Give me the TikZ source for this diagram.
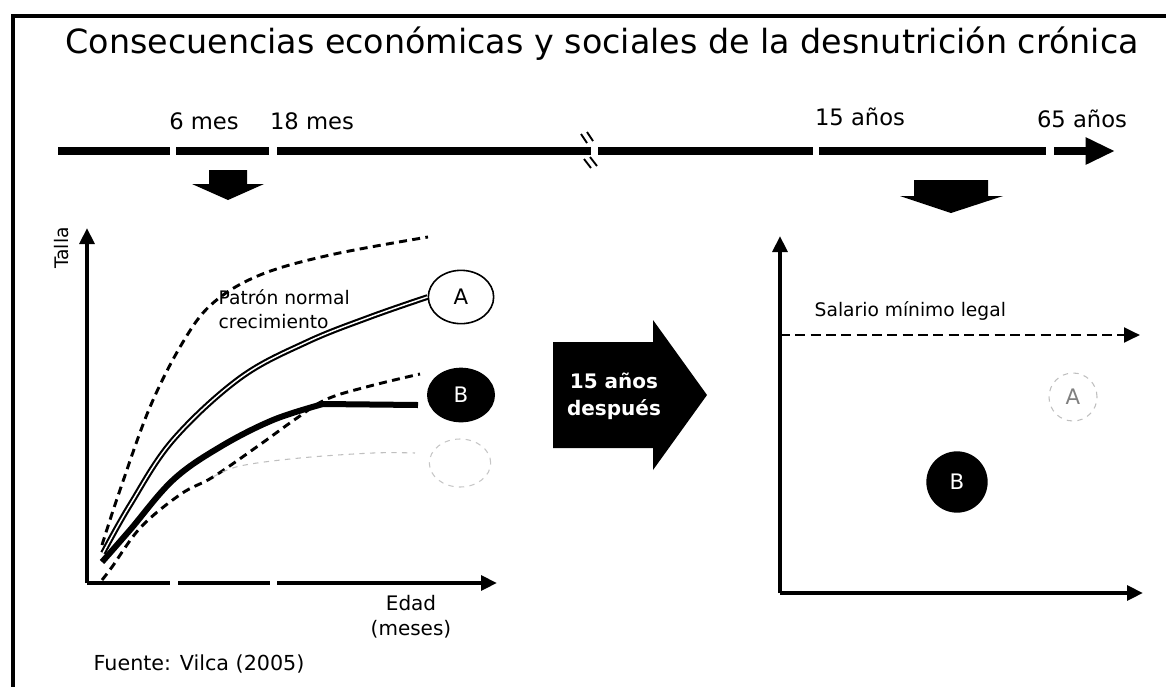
\documentclass[tikz,border=0pt]{standalone}
\usepackage{fontspec}
\setmainfont{DejaVu Sans}
\usetikzlibrary{arrows.meta,shapes.geometric}
\begin{document}
\begin{tikzpicture}[x=0.75pt,y=-0.75pt,
  frame/.style={line width=3pt,line cap=rect},
  tline/.style={line width=5.5pt},
  axisline/.style={line width=3.2pt},
  axtip/.style={-{Triangle[length=12pt,width=11pt]}},
  dashcurve/.style={line width=2.2pt,dash pattern=on 6pt off 4pt},
  faint/.style={line width=0.8pt,gray!50,dash pattern=on 4pt off 4pt},
  lbl/.style={font=\fontsize{17pt}{20pt}\selectfont,anchor=base},
  small/.style={font=\fontsize{14pt}{18pt}\selectfont},
  blackell/.style={ellipse,fill=black,text=white,inner sep=0pt,font=\fontsize{16pt}{20pt}\selectfont},
  whiteell/.style={ellipse,draw=black,line width=1.2pt,fill=white,inner sep=0pt,font=\fontsize{16pt}{20pt}\selectfont},
  bigarrow/.style={fill=black}
]
\useasboundingbox (0,0) rectangle (1166,686);
% frame
\draw[frame] (1166,16) -- (13,16) -- (13,686);
% title
\node[anchor=base,font=\fontsize{25pt}{30pt}\selectfont] (title) at (602,53) {Consecuencias económicas y sociales de la desnutrición crónica};
% timeline labels
\node[lbl] (l6) at (204,129) {6 mes};
\node[lbl] (l18) at (312,129) {18 mes};
\node[lbl] (l15) at (860,125) {15 años};
\node[lbl] (l65) at (1082,127) {65 años};
% timeline
\coordinate (t0) at (58,151);  \coordinate (t1) at (170,151);
\coordinate (t2) at (176,151); \coordinate (t3) at (269,151);
\coordinate (t4) at (277,151); \coordinate (t5) at (591,151);
\coordinate (t6) at (598,151); \coordinate (t7) at (813,151);
\coordinate (t8) at (819,151); \coordinate (t9) at (1046,151);
\coordinate (t10) at (1054,151); \coordinate (t11) at (1115,151);
\draw[tline] (t0) -- (t1);
\draw[tline] (t2) -- (t3);
\draw[tline] (t4) -- (t5);
\draw[tline] (t6) -- (t7);
\draw[tline] (t8) -- (t9);
\draw[tline,-{Triangle[length=22pt,width=19pt]}] (t10) -- (t11);
% break marks
\draw[line width=1.4pt] (581,134) -- (587,143) (587,132) -- (593,141);
\draw[line width=1.4pt] (584,159) -- (591,168) (590,157) -- (597,166);
% down arrows
\fill[bigarrow] (209,170) -- (247,170) -- (247,184) -- (264,184) -- (228,200) -- (192,184) -- (209,184) -- cycle;
\fill[bigarrow] (914,180) -- (988,180) -- (988,196) -- (1003,196) -- (951,213) -- (900,196) -- (914,196) -- cycle;
% ===== left chart =====
\coordinate (lo) at (87,583);
\coordinate (ly) at (87,228);
\coordinate (lx1) at (170,583); \coordinate (lx2) at (178,583);
\coordinate (lx3) at (270,583); \coordinate (lx4) at (277,583);
\coordinate (lx5) at (497,583);
\draw[axisline,axtip] (lo) -- (ly);
\draw[axisline] (lo) -- (lx1);
\draw[axisline] (lx2) -- (lx3);
\draw[axisline,axtip] (lx4) -- (lx5);
\node[small,rotate=90] (talla) at (62,248) {Talla};
\node[font=\fontsize{15pt}{19pt}\selectfont,align=center] (edad) at (411,617) {Edad\\(meses)};
\node[font=\fontsize{15.5pt}{18pt}\selectfont,anchor=west] (fuente) at (89,664) {Fuente: Vilca (2005)};
% curves
\draw[dashcurve] plot[smooth,tension=0.6] coordinates {(102,545) (120,490) (150,407) (183,342) (213,303) (260,275) (330,255) (428,237)};
\draw[dashcurve] plot[smooth,tension=0.6] coordinates {(102,580) (112,567) (141,527) (181,494) (213,477) (258,446) (297,418) (327,399) (370,386) (420,374)};
\draw[faint] plot[smooth,tension=0.6] coordinates {(213,477) (240,466) (300,458) (373,453) (415,453)};
\node[whiteell,minimum width=49pt,minimum height=40pt] (A) at (461,297) {A};
\node[blackell,minimum width=51pt,minimum height=41pt] (B) at (461,395) {B};
\node[ellipse,draw=gray!45,line width=0.8pt,dash pattern=on 4pt off 4pt,minimum width=46pt,minimum height=36pt] (C) at (460,463) {};
\draw[line width=1.6pt,double=white,double distance=1.1pt] plot[smooth,tension=0.6] coordinates {(103,553) (130,505) (173,440) (240,378) (307,342) (370,317) (A.west)};
\draw[line width=4.5pt] plot[smooth,tension=0.6] coordinates {(102,562) (130,530) (173,480) (220,447) (273,420) (323,404)} -- (418,405);
\node[small,anchor=west,align=left] (patron) at (214,309) {Patrón normal\\crecimiento};
% big middle arrow
\fill[bigarrow] (553,342) -- (653,342) -- (653,320) -- (707,395) -- (653,470) -- (653,448) -- (553,448) -- cycle;
\node[text=white,font=\bfseries\fontsize{15pt}{20pt}\selectfont,align=center] (despues) at (614,396) {15 años\\después};
% ===== right chart =====
\coordinate (ro) at (780,593);
\coordinate (ry) at (780,236);
\coordinate (rx) at (1143,593);
\coordinate (rs0) at (780,335);
\coordinate (rs1) at (1140,335);
\draw[axisline,axtip] (ro) -- (ry);
\draw[axisline,axtip] (ro) -- (rx);
\draw[line width=2.2pt,dash pattern=on 7.5pt off 4pt,axtip] (rs0) -- (rs1);
\node[small,anchor=west] (salario) at (810,311) {Salario mínimo legal};
\node[circle,draw=gray!50,line width=0.8pt,dash pattern=on 4pt off 4pt,minimum size=36pt,text=gray,font=\fontsize{16pt}{20pt}\selectfont] (A2) at (1073,397) {A};
\node[circle,fill=black,text=white,minimum size=46pt,inner sep=0pt,font=\fontsize{16pt}{20pt}\selectfont] (B2) at (957,482) {B};
\end{tikzpicture}
\end{document}
